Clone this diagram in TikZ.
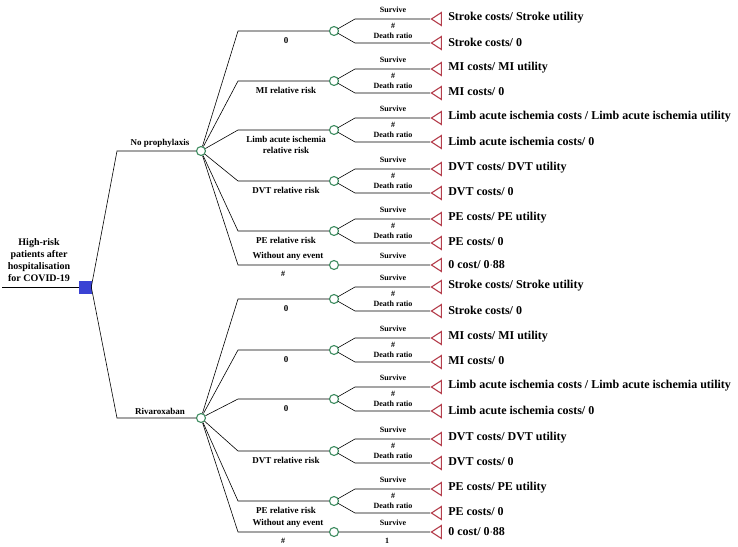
\documentclass[tikz,border=0pt]{standalone}
\usepackage{fontspec}
\setmainfont{Liberation Serif}
\usetikzlibrary{shapes.geometric}
\definecolor{termred}{RGB}{180,62,76}
\definecolor{chancegreen}{RGB}{62,140,96}
\definecolor{decblue}{RGB}{58,66,212}
\tikzset{>=latex,
  decision/.style={rectangle,draw=decblue,fill=decblue,minimum size=12pt,inner sep=0pt},
  chance/.style={circle,draw=chancegreen,line width=1.1pt,fill=white,minimum size=9pt,inner sep=0pt},
  term/.style={isosceles triangle,isosceles triangle stretches,shape border rotate=180,
    draw=termred,line width=1.1pt,minimum width=13pt,minimum height=10pt,inner sep=0pt,anchor=apex},
  outlab/.style={anchor=west,inner sep=1pt,font=\fontsize{12}{14}\selectfont\bfseries},
  small/.style={inner sep=0pt,font=\fontsize{8}{9}\selectfont\bfseries},
  problab/.style={anchor=north,align=center,inner sep=0pt,font=\fontsize{9}{11}\selectfont\bfseries},
  armlab/.style={anchor=south,inner sep=1pt,font=\fontsize{9}{10}\selectfont\bfseries},
}

\begin{document}
\begin{tikzpicture}[x=1pt,y=-1pt,line width=0.6pt]
  \useasboundingbox (0,0) rectangle (738,546);
  % root
  \coordinate (start) at (2,287);
  \node[decision] (root) at (85,287) {};
  \draw (start) -- (root);
  \node[align=center,inner sep=0pt,font=\fontsize{10}{12}\selectfont\bfseries] (rootlab) at (39,260)
    {High-risk\\patients after\\hospitalisation\\for COVID-19};
  \foreach \arm/\y/\name in {np/151/No prophylaxis,riv/418/Rivaroxaban} {
    \coordinate (\arm-e) at (117,\y);
    \draw (root.east) -- (\arm-e) -- (201,\y);
    \node[chance] (\arm) at (201,\y) {};
    \node[armlab] (\arm-lab) at (160,\y-2) {\name};
  }
  % events, no prophylaxis
  \foreach \i/\y/\prob/\ev/\surv in {1/31/0/Stroke/{Stroke costs/ Stroke utility},
      2/81/MI relative risk/MI/{MI costs/ MI utility},
      3/130/{Limb acute ischemia\\relative risk}/Limb acute ischemia/{Limb acute ischemia costs / Limb acute ischemia utility},
      4/181/DVT relative risk/DVT/{DVT costs/ DVT utility},
      5/231/PE relative risk/PE/{PE costs/ PE utility}} {
    \coordinate (np\i-e) at (238,\y);
    \coordinate (np\i-se) at (355,\y-12);
    \coordinate (np\i-de) at (355,\y+12);
    \node[term] (np\i-s) at (430,\y-12) {};
    \node[term] (np\i-d) at (430,\y+12) {};
    \draw (np) -- (np\i-e) -- (334,\y);
    \draw (334,\y) -- (np\i-se) -- (np\i-s);
    \draw (334,\y) -- (np\i-de) -- (np\i-d);
    \node[chance] (np\i) at (334,\y) {};
    \node[problab] (np\i-p) at (286,\y+6) {\prob};
    \node[small] (np\i-sv) at (393,\y-21) {Survive};
    \node[small] (np\i-h) at (393,\y-5) {\#};
    \node[small] (np\i-dr) at (393,\y+5) {Death ratio};
    \node[outlab] (np\i-sl) at (447,\y-13) {\surv};
    \node[outlab] (np\i-dl) at (447,\y+11) {\ev{} costs/ 0};
  }
  % events, rivaroxaban
  \foreach \i/\y/\prob/\ev/\surv in {1/299/0/Stroke/{Stroke costs/ Stroke utility},
      2/350/0/MI/{MI costs/ MI utility},
      3/399/0/Limb acute ischemia/{Limb acute ischemia costs / Limb acute ischemia utility},
      4/451/DVT relative risk/DVT/{DVT costs/ DVT utility},
      5/501/PE relative risk/PE/{PE costs/ PE utility}} {
    \coordinate (riv\i-e) at (238,\y);
    \coordinate (riv\i-se) at (355,\y-12);
    \coordinate (riv\i-de) at (355,\y+12);
    \node[term] (riv\i-s) at (430,\y-12) {};
    \node[term] (riv\i-d) at (430,\y+12) {};
    \draw (riv) -- (riv\i-e) -- (334,\y);
    \draw (334,\y) -- (riv\i-se) -- (riv\i-s);
    \draw (334,\y) -- (riv\i-de) -- (riv\i-d);
    \node[chance] (riv\i) at (334,\y) {};
    \node[problab] (riv\i-p) at (286,\y+6) {\prob};
    \node[small] (riv\i-sv) at (393,\y-21) {Survive};
    \node[small] (riv\i-h) at (393,\y-5) {\#};
    \node[small] (riv\i-dr) at (393,\y+5) {Death ratio};
    \node[outlab] (riv\i-sl) at (447,\y-13) {\surv};
    \node[outlab] (riv\i-dl) at (447,\y+11) {\ev{} costs/ 0};
  }
  % without any event
  \foreach \arm/\y in {np/265,riv/532} {
    \coordinate (\arm6-e) at (238,\y);
    \node[term] (\arm6-s) at (430,\y) {};
    \draw (\arm) -- (\arm6-e) -- (334,\y) -- (\arm6-s);
    \node[chance] (\arm6) at (334,\y) {};
    \node[armlab] (\arm6-p) at (288,\y-3) {Without any event};
    \node[small] (\arm6-h) at (283,\y+9) {\#};
    \node[small] (\arm6-sv) at (393,\y-9) {Survive};
    \node[outlab] (\arm6-sl) at (447,\y) {0 cost/ 0$\cdot$88};
  }
  \node[small] (riv6-one) at (387,541) {1};
\end{tikzpicture}
\end{document}
